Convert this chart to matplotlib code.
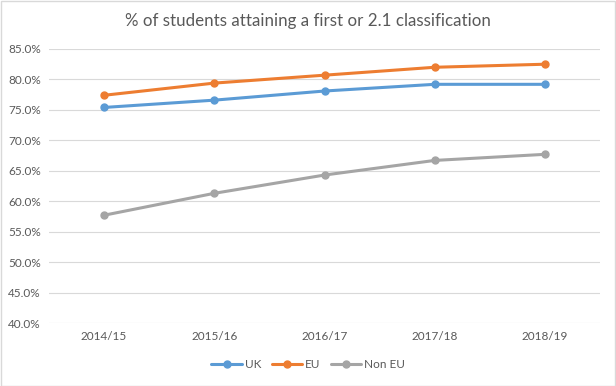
import matplotlib
matplotlib.use('Agg')
from matplotlib import pyplot as plt
from matplotlib.patches import Rectangle
from matplotlib.ticker import FuncFormatter

years = ['2014/15', '2015/16', '2016/17', '2017/18', '2018/19']
uk = [75.4, 76.6, 78.1, 79.2, 79.2]
eu = [77.4, 79.4, 80.7, 82.0, 82.5]
non_eu = [57.7, 61.3, 64.3, 66.7, 67.7]
y_ticks = [40, 45, 50, 55, 60, 65, 70, 75, 80, 85]

plt.rcParams['font.family'] = ['Lato', 'DejaVu Sans']

fig = plt.figure(figsize=(6.16, 3.86), dpi=100)
ax = fig.add_axes([49 / 616, 1 - 323 / 386, 551 / 616, 274 / 386])

x = range(len(years))
for vals, col, lab in [(uk, '#5B9BD5', 'UK'), (eu, '#ED7D31', 'EU'), (non_eu, '#A5A5A5', 'Non EU')]:
    ax.plot(x, vals, color=col, lw=2.2, marker='o', ms=5, label=lab, solid_capstyle='round')

ax.set_xlim(-0.5, len(years) - 0.5)
ax.set_ylim(40, 85)
ax.set_yticks(y_ticks)
ax.yaxis.set_major_formatter(FuncFormatter(lambda v, p: f'{v:.1f}%'))
ax.set_xticks(list(x))
ax.set_xticklabels(years)
ax.grid(axis='y', color='#D9D9D9', lw=0.8)
ax.set_axisbelow(True)
for s in ax.spines.values():
    s.set_visible(False)
ax.tick_params(length=0, labelsize=8.5, colors='#595959', pad=6)

fig.text(0.5, 1 - 21 / 386, '% of students attaining a first or 2.1 classification',
         ha='center', va='center', fontsize=12.2, color='#595959')

leg = fig.legend(loc='center', bbox_to_anchor=(0.5, 1 - 365 / 386), ncol=3, frameon=False,
                 fontsize=8.5, handlelength=2.6, columnspacing=0.9, handletextpad=0.2)
for t in leg.get_texts():
    t.set_color('#595959')

fig.patches.append(Rectangle((0.001, 0.001), 0.997, 0.997, transform=fig.transFigure,
                             fill=False, edgecolor='#D9D9D9', lw=1))

fig.savefig('out.png', dpi=100, facecolor='white')
